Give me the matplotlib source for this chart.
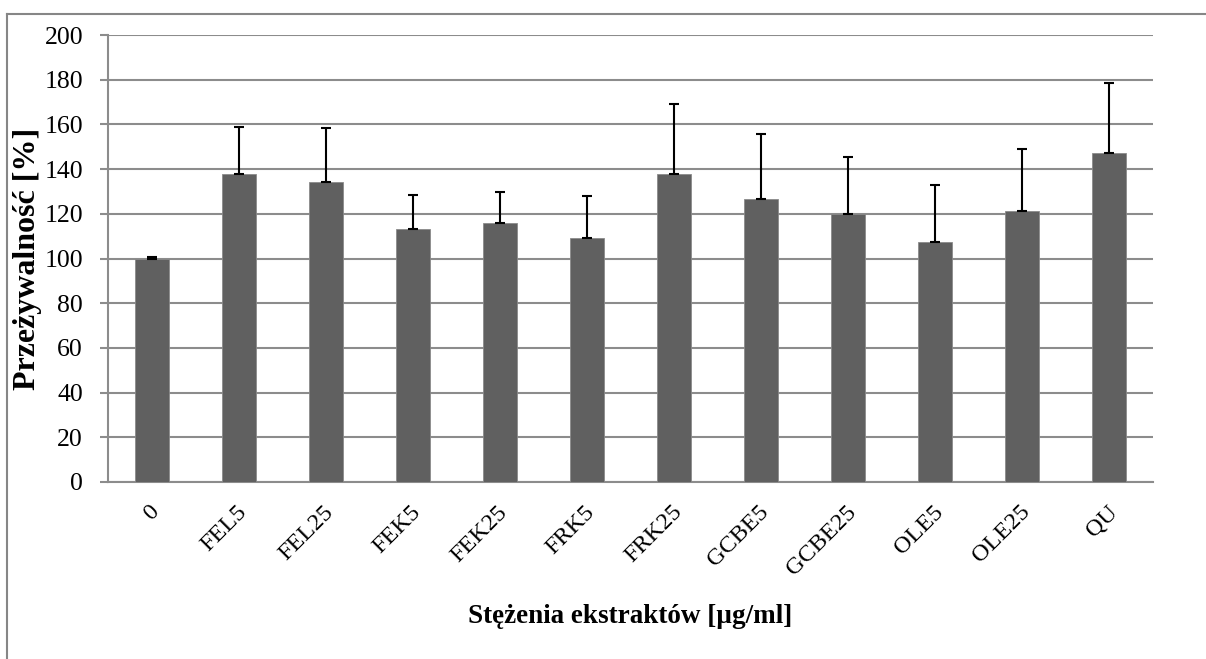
import matplotlib
matplotlib.use("Agg")
import matplotlib.pyplot as plt
from matplotlib.lines import Line2D
from matplotlib.transforms import ScaledTranslation

categories = ["0", "FEL5", "FEL25", "FEK5", "FEK25", "FRK5", "FRK25",
              "GCBE5", "GCBE25", "OLE5", "OLE25", "QU"]
values = [100.0, 137.7, 134.3, 113.1, 116.1, 109.2, 137.6,
          126.4, 119.7, 107.6, 121.3, 147.3]
errors = [0.5, 21.2, 24.0, 15.1, 13.6, 18.8, 31.5,
          29.3, 25.5, 25.5, 27.6, 31.2]
yticks = [0, 20, 40, 60, 80, 100, 120, 140, 160, 180, 200]

plt.rcParams['font.family'] = ['Liberation Serif', 'DejaVu Serif']

W, H = 1206, 659
fig = plt.figure(figsize=(W / 100, H / 100), dpi=100)
ax = fig.add_axes([108 / W, 1 - 482 / H, (1153 - 108) / W, (482 - 35) / H])

grid_c = "#8c8c8c"
x = list(range(len(categories)))
ax.bar(x, values, width=0.39, color="#606060", edgecolor="#8a8a8a",
       linewidth=0.6, zorder=3)
ax.errorbar(x, values, yerr=[[0] * len(errors), errors], fmt="none",
            ecolor="black", elinewidth=1.5, capsize=3.8, capthick=1.5, zorder=4)

ax.set_xlim(-0.5, len(categories) - 0.5)
ax.set_ylim(0, 200)
ax.set_yticks(yticks)
ax.set_yticklabels([str(v) for v in yticks], fontsize=18.5)
ax.yaxis.grid(True, color=grid_c, linewidth=1.5, zorder=0)
ax.set_axisbelow(True)

for s in ["top", "right"]:
    ax.spines[s].set_visible(False)
for s in ["left", "bottom"]:
    ax.spines[s].set_color(grid_c)
    ax.spines[s].set_linewidth(1.5)

ax.tick_params(axis="y", length=6, width=1.5, color=grid_c, pad=12)
ax.tick_params(axis="x", length=0, pad=14)

ax.set_xticks(x)
ax.set_xticklabels(categories, fontsize=17.5, rotation=45, ha="right",
                   va="top", rotation_mode="anchor")
offset = ScaledTranslation(-2 / 72, 0, fig.dpi_scale_trans)
for lbl in ax.get_xticklabels():
    lbl.set_transform(lbl.get_transform() + offset)

ax.set_ylabel("Przeżywalność [%]", fontsize=23, fontweight="bold", labelpad=2)
ax.set_xlabel("Stężenia ekstraktów [µg/ml]", fontsize=19.5, fontweight="bold",
              labelpad=18)

# chart area frame (partially visible)
fig.add_artist(Line2D([7 / W, 1.0], [1 - 14 / H, 1 - 14 / H], color="#868686",
                      linewidth=1.5, transform=fig.transFigure))
fig.add_artist(Line2D([7 / W, 7 / W], [0.0, 1 - 14 / H], color="#868686",
                      linewidth=1.5, transform=fig.transFigure))

fig.savefig("out.png", dpi=100)
